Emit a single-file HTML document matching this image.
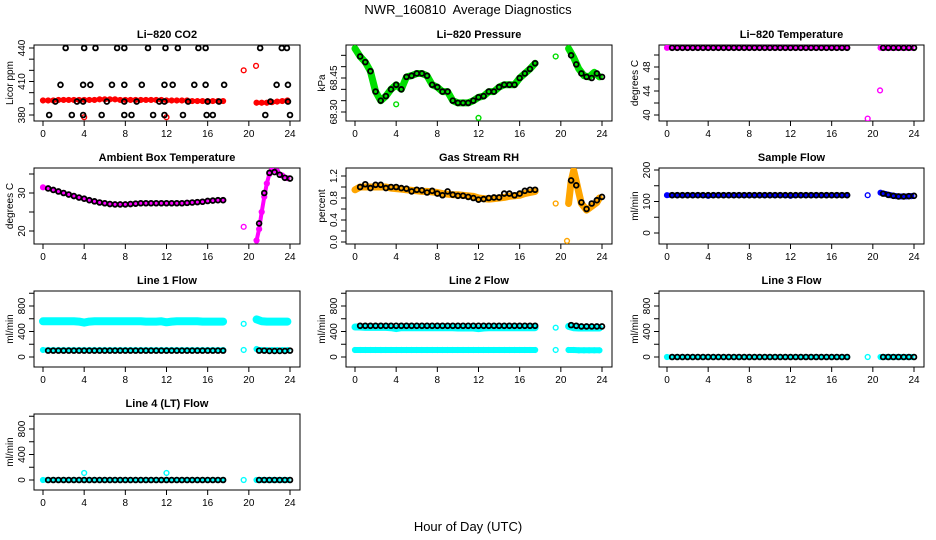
<!DOCTYPE html>
<html><head><meta charset="utf-8">
<style>
html,body{margin:0;padding:0;background:#fff;}
svg{display:block;font-family:"Liberation Sans",sans-serif;}
</style></head>
<body>
<svg id="chart" width="936" height="540" viewBox="0 0 936 540">
<text x="468" y="14" text-anchor="middle" font-size="13" style="white-space:pre">NWR_160810  Average Diagnostics</text>
<text x="468" y="531" text-anchor="middle" font-size="13">Hour of Day (UTC)</text>
</svg>
<script>
// ---- shared hour categories ----
const hC = [0,0.5,1,1.5,2,2.5,3,3.5,4,4.5,5,5.5,6,6.5,7,7.5,8,8.5,9,9.5,10,10.5,11,11.5,12,12.5,13,13.5,14,14.5,15,15.5,16,16.5,17,17.5,19.5,20.75,21.25,21.75,22.25,22.75,23.25,23.75];
const hK = [0.5,1,1.5,2,2.5,3,3.5,4,4.5,5,5.5,6,6.5,7,7.5,8,8.5,9,9.5,10,10.5,11,11.5,12,12.5,13,13.5,14,14.5,15,15.5,16,16.5,17,17.5,21,21.5,22,22.5,23,23.5,24];
const xTicks = [0,4,8,12,16,20,24];

// ---- CO2 ----
const co2Red = [393,393,393,393.5,393.5,393.5,393.5,393.5,393.5,393.5,393.5,394,394,394,394,393.5,393.5,393.5,393.5,393.5,393.5,393.5,393.5,393.5,393,393,393,393,393,392.5,392.5,392.5,392.5,392.5,392.5,392.5,420,391,391,391,391.5,392,392.5,393];
const co2RedOutH = [4,12,20.7];
const co2RedOutV = [378,378,424];
const co2BlackH = [2.2,4,5.1,7.2,7.9,10.2,11.9,13.1,15.1,15.8,21.1,23.2,23.7, 1.7,3.9,4.6,6.7,7.9,9.6,11.8,12.6,14.7,15.8,17.6,22.7,23.8, 1.2,3.3,3.9,6.2,7.9,9.1,11.3,11.8,14.1,16,17.1,22.1,23.8, 0.6,2.8,3.9,5.7,7.9,8.6,10.7,11.8,13.6,15.9,16.5,21.6,24];
const co2BlackV = [440,440,440,440,440,440,440,440,440,440,440,440,440, 407,407,407,407,407,407,407,407,407,407,407,407,407, 392,392,392,392,392,392,392,392,392,392,392,392,392, 380,380,380,380,380,380,380,380,380,380,380,380,380];

// ---- Pressure ----
const presGreen = [68.58,68.545,68.52,68.48,68.39,68.35,68.37,68.40,68.42,68.40,68.455,68.46,68.47,68.47,68.46,68.42,68.41,68.39,68.39,68.35,68.34,68.34,68.34,68.35,68.365,68.37,68.39,68.39,68.41,68.42,68.42,68.42,68.45,68.47,68.49,68.515,68.545,68.58,68.54,68.49,68.46,68.455,68.475,68.455];
const presOutH = [4,12];
const presOutV = [68.334,68.274];
const presBlack = [68.545,68.52,68.48,68.39,68.35,68.37,68.40,68.42,68.40,68.455,68.46,68.47,68.47,68.46,68.42,68.41,68.39,68.39,68.35,68.34,68.34,68.34,68.35,68.365,68.37,68.39,68.39,68.41,68.42,68.42,68.42,68.45,68.47,68.49,68.515,68.55,68.51,68.47,68.455,68.45,68.47,68.455];

// ---- Li-820 Temperature ----
const tempMag = [51.2,51.2,51.2,51.2,51.2,51.2,51.2,51.2,51.2,51.2,51.2,51.2,51.2,51.2,51.2,51.2,51.2,51.2,51.2,51.2,51.2,51.2,51.2,51.2,51.2,51.2,51.2,51.2,51.2,51.2,51.2,51.2,51.2,51.2,51.2,51.2,39.4,51.2,51.2,51.2,51.2,51.2,51.2,51.2];
const tempOutH = [20.7];
const tempOutV = [44.1];
const tempBlack = [51.2,51.2,51.2,51.2,51.2,51.2,51.2,51.2,51.2,51.2,51.2,51.2,51.2,51.2,51.2,51.2,51.2,51.2,51.2,51.2,51.2,51.2,51.2,51.2,51.2,51.2,51.2,51.2,51.2,51.2,51.2,51.2,51.2,51.2,51.2,51.2,51.2,51.2,51.2,51.2,51.2,51.2];

// ---- Ambient ----
const ambH = [0,0.5,1,1.5,2,2.5,3,3.5,4,4.5,5,5.5,6,6.5,7,7.5,8,8.5,9,9.5,10,10.5,11,11.5,12,12.5,13,13.5,14,14.5,15,15.5,16,16.5,17,17.5,19.5,20.75,21,21.25,21.5,21.75,22,22.25,22.75,23.25,23.75];
const ambMag = [31.5,31.2,30.8,30.4,30.0,29.6,29.2,28.8,28.5,28.1,27.8,27.5,27.3,27.1,27.0,27.0,27.0,27.1,27.2,27.3,27.3,27.3,27.3,27.3,27.3,27.3,27.3,27.3,27.4,27.5,27.6,27.7,27.9,28.0,28.1,28.1,21.1,17.5,20.5,25,29,32.5,35,36,35.7,34.6,33.9];
const ambBlack = [31.2,30.8,30.4,30,29.6,29.2,28.8,28.5,28.1,27.8,27.5,27.3,27.1,27.0,27.0,27.0,27.1,27.2,27.3,27.3,27.3,27.3,27.3,27.3,27.3,27.3,27.3,27.4,27.5,27.6,27.7,27.9,28.0,28.1,28.1,22,30,35.3,35.5,34.8,34.0,33.8];

// ---- Gas Stream RH ----
const rhH = [0,0.5,1,1.5,2,2.5,3,3.5,4,4.5,5,5.5,6,6.5,7,7.5,8,8.5,9,9.5,10,10.5,11,11.5,12,12.5,13,13.5,14,14.5,15,15.5,16,16.5,17,17.5,19.5,20.75,21,21.25,21.5,21.75,22,22.5,23,23.5,23.75];
const rhOrange = [0.95,1.0,1.0,1.0,1.0,1.0,1.0,0.98,0.97,0.96,0.95,0.94,0.93,0.92,0.92,0.91,0.9,0.88,0.87,0.86,0.86,0.85,0.84,0.83,0.8,0.79,0.78,0.79,0.80,0.81,0.83,0.84,0.85,0.88,0.9,0.92,0.7,0.7,1.1,1.3,1.1,0.9,0.7,0.58,0.65,0.72,0.8];
const rhOutH = [20.6];
const rhOutV = [0.02];
const rhBlack = [1.0,1.05,0.98,1.04,1.04,0.98,1.0,1.0,0.98,0.97,0.92,0.95,0.94,0.9,0.93,0.88,0.85,0.92,0.86,0.84,0.84,0.82,0.8,0.77,0.78,0.8,0.81,0.81,0.88,0.88,0.85,0.88,0.93,0.95,0.95,1.12,1.03,0.72,0.6,0.7,0.76,0.82];

// ---- Sample Flow ----
const sfBlue = [120,120,120,120,120,120,120,120,118,120,120,120,120,120,120,120,120,120,120,120,120,120,120,120,118,120,120,120,120,120,120,120,120,120,120,120,120,128,124,120,117,116,116,117];
const sfBlack = [120,120,120,120,120,120,120,120,120,120,120,120,120,120,120,120,120,120,120,120,120,120,120,120,120,120,120,120,120,120,120,120,120,120,120,125,121,118,116,116,117,118];

// ---- Line 1 ----
const l1High = [560,560,560,560,560,560,560,555,540,555,560,560,560,560,560,560,560,560,560,560,555,555,555,560,545,555,560,560,560,560,560,555,555,555,555,555,520,590,560,555,555,555,555,555];
const l1Low = [110,110,110,110,110,110,110,110,110,110,110,110,110,110,110,110,110,110,110,110,110,110,110,110,110,110,110,110,110,110,110,110,110,110,110,110,110,125,110,110,110,110,110,110];
const l1Black = [100,100,100,100,100,100,100,100,100,100,100,100,100,100,100,100,100,100,100,100,100,100,100,100,100,100,100,100,100,100,100,100,100,100,100,100,100,95,95,95,95,100];

// ---- Line 2 ----
const l2High = [470,470,465,465,465,465,465,460,445,460,460,460,460,460,460,460,460,460,460,460,455,455,455,455,445,455,460,460,460,460,460,460,460,460,460,460,460,480,460,455,455,455,455,455];
const l2Low = [110,110,110,110,110,110,110,110,110,110,110,110,110,110,110,110,110,110,110,110,110,110,110,110,110,110,110,110,110,110,110,110,110,110,110,110,110,110,110,105,105,105,105,105];
const l2Black = [490,490,490,490,490,490,490,490,490,490,490,490,490,490,490,490,490,490,490,490,490,490,490,490,490,490,490,490,490,490,490,490,490,490,490,500,490,480,480,480,480,480];

// ---- Line 3 ----
const l3Cyan = [0,0,0,0,0,0,0,0,0,0,0,0,0,0,0,0,0,0,0,0,0,0,0,0,0,0,0,0,0,0,0,0,0,0,0,0,0,0,0,0,0,0,0,0];
const l3Black = [0,0,0,0,0,0,0,0,0,0,0,0,0,0,0,0,0,0,0,0,0,0,0,0,0,0,0,0,0,0,0,0,0,0,0,0,0,0,0,0,0,0];

// ---- Line 4 ----
const l4Cyan = [0,0,0,0,0,0,0,0,0,0,0,0,0,0,0,0,0,0,0,0,0,0,0,0,0,0,0,0,0,0,0,0,0,0,0,0,0,0,0,0,0,0,0,0];
const l4OutH = [4,12];
const l4OutV = [110,110];
const l4Black = [0,0,0,0,0,0,0,0,0,0,0,0,0,0,0,0,0,0,0,0,0,0,0,0,0,0,0,0,0,0,0,0,0,0,0,0,0,0,0,0,0,0];

// ---- layout ----
const svg = document.getElementById('chart');
const NS = 'http://www.w3.org/2000/svg';
const cols = [{bl:34,br:300,x0:43,x24:290},{bl:346,br:612,x0:355,x24:602},{bl:659,br:924,x0:667,x24:914}];
const rows = [{bt:45,bb:121},{bt:168,bb:244},{bt:291,bb:367},{bt:414,bb:490}];
const CYAN='#00ffff';

const panels = [
 {key:'co2',r:0,c:0,title:'Li\u2212820 CO2',ylab:'Licor ppm',a:[380,115],b:[440,48],ticks:[380,390,400,410,420,430,440],labels:['380','410','440'],
  series:[{h:hC,v:co2Red,col:'#ff0000',band:4},{h:co2RedOutH,v:co2RedOutV,col:'#ff0000'},{h:co2BlackH,v:co2BlackV,col:'#000'}]},
 {key:'pressure',r:0,c:1,title:'Li\u2212820 Pressure',ylab:'kPa',a:[68.30,112],b:[68.45,78],ticks:[68.30,68.35,68.40,68.45,68.50,68.55],labels:['68.30','68.45'],
  series:[{h:hC,v:presGreen,col:'#00dd00',band:7},{h:presOutH,v:presOutV,col:'#00dd00'},{h:hK,v:presBlack,col:'#000'}]},
 {key:'li820-temp',r:0,c:2,title:'Li\u2212820 Temperature',ylab:'degrees C',a:[40,115],b:[48,67],ticks:[40,42,44,46,48,50],labels:['40','44','48'],
  series:[{h:hC,v:tempMag,col:'#ff00ff',band:5},{h:tempOutH,v:tempOutV,col:'#ff00ff'},{h:hK,v:tempBlack,col:'#000'}]},
 {key:'ambient',r:1,c:0,title:'Ambient Box Temperature',ylab:'degrees C',a:[20,231],b:[30,193],ticks:[20,25,30,35],labels:['20','30'],
  series:[{h:ambH,v:ambMag,col:'#ff00ff',band:4},{h:hK,v:ambBlack,col:'#000'}]},
 {key:'rh',r:1,c:1,title:'Gas Stream RH',ylab:'percent',a:[0,242],b:[1.2,176],ticks:[0,0.2,0.4,0.6,0.8,1.0,1.2],labels:['0.0','0.4','0.8','1.2'],
  series:[{h:rhH,v:rhOrange,col:'#ffa500',band:7},{h:rhOutH,v:rhOutV,col:'#ffa500'},{h:hK,v:rhBlack,col:'#000'}]},
 {key:'sample-flow',r:1,c:2,title:'Sample Flow',ylab:'ml/min',a:[0,233],b:[200,170],ticks:[0,50,100,150,200],labels:['0','100','200'],
  series:[{h:hC,v:sfBlue,col:'#0000ff',band:5},{h:hK,v:sfBlack,col:'#000'}]},
 {key:'line1',r:2,c:0,title:'Line 1 Flow',ylab:'ml/min',a:[0,357],b:[800,306],ticks:[0,200,400,600,800,1000],labels:['0','400','800'],
  series:[{h:hC,v:l1High,col:CYAN,band:8},{h:hC,v:l1Low,col:CYAN,band:5},{h:hK,v:l1Black,col:'#000'}]},
 {key:'line2',r:2,c:1,title:'Line 2 Flow',ylab:'ml/min',a:[0,357],b:[800,306],ticks:[0,200,400,600,800,1000],labels:['0','400','800'],
  series:[{h:hC,v:l2High,col:CYAN,band:7},{h:hC,v:l2Low,col:CYAN,band:6},{h:hK,v:l2Black,col:'#000'}]},
 {key:'line3',r:2,c:2,title:'Line 3 Flow',ylab:'ml/min',a:[0,357],b:[800,306],ticks:[0,200,400,600,800,1000],labels:['0','400','800'],
  series:[{h:hC,v:l3Cyan,col:CYAN,band:5},{h:hK,v:l3Black,col:'#000'}]},
 {key:'line4',r:3,c:0,title:'Line 4 (LT) Flow',ylab:'ml/min',a:[0,480],b:[800,429],ticks:[0,200,400,600,800,1000],labels:['0','400','800'],
  series:[{h:hC,v:l4Cyan,col:CYAN,band:5},{h:l4OutH,v:l4OutV,col:CYAN},{h:hK,v:l4Black,col:'#000'}]}
];

function mk(tag, attrs, parent){
  const e=document.createElementNS(NS,tag);
  for(const k in attrs) e.setAttribute(k,attrs[k]);
  parent.appendChild(e); return e;
}

panels.forEach(p=>{
  const C=cols[p.c], R=rows[p.r];
  const g=mk('g',{},svg);
  
  
  const xs=h=>C.x0+(h/24)*(C.x24-C.x0);
  const ys=v=>p.a[1]+(v-p.a[0])*(p.b[1]-p.a[1])/(p.b[0]-p.a[0]);
  const cid='clip-'+p.key;
  const cp=mk('clipPath',{id:cid},g);
  mk('rect',{x:C.bl,y:R.bt,width:C.br-C.bl,height:R.bb-R.bt},cp);
  const t=mk('text',{x:(C.bl+C.br)/2,y:R.bt-7,'text-anchor':'middle','font-size':11,'font-weight':'bold'},g);
  t.textContent=p.title;
  
  
  const box=mk('rect',{x:C.bl,y:R.bt,width:C.br-C.bl,height:R.bb-R.bt,fill:'none',stroke:'#000','stroke-width':1},g);
  
  
  const xa=mk('g',{},g);
  
  
  xTicks.forEach(h=>{
    mk('line',{x1:xs(h),x2:xs(h),y1:R.bb,y2:R.bb+5,stroke:'#000'},xa);
    const l=mk('text',{x:xs(h),y:R.bb+16,'text-anchor':'middle','font-size':10},xa);
    l.textContent=String(h);
  });
  const ya=mk('g',{},g);
  
  
  p.ticks.forEach(v=>{
    mk('line',{x1:C.bl-5,x2:C.bl,y1:ys(v),y2:ys(v),stroke:'#000'},ya);
  });
  p.labels.forEach(s=>{
    const y=ys(parseFloat(s));
    const l=mk('text',{x:0,y:0,'text-anchor':'middle','font-size':10,transform:`translate(${C.bl-9},${y}) rotate(-90)`},ya);
    l.textContent=s;
  });
  const yl=mk('text',{x:0,y:0,'text-anchor':'middle','font-size':10,transform:`translate(${C.bl-21},${(R.bt+R.bb)/2}) rotate(-90)`},g);
  yl.textContent=p.ylab;
  
  
  const sg=mk('g',{'clip-path':`url(#${cid})`},g);
  p.series.forEach((s,si)=>{
    const ser=mk('g',{},sg);
    
    
    if(s.band){
      let seg=[];
      const flush=()=>{ if(seg.length>1) mk('polyline',{points:seg.join(' '),fill:'none',stroke:s.col,'stroke-width':s.band,'stroke-linejoin':'round','stroke-linecap':'round'},ser); seg=[]; };
      s.h.forEach((h,i)=>{
        if(i>0 && h-s.h[i-1]>1) flush();
        seg.push(xs(h).toFixed(1)+','+ys(s.v[i]).toFixed(1));
      });
      flush();
    }
    const sw = s.col==='#000' ? 1.8 : 1.4;
    s.h.forEach((h,i)=>{
      const c=mk('circle',{cx:xs(h),cy:ys(s.v[i]),r:2.4,fill:'none',stroke:s.col,'stroke-width':sw},ser);
      
      
    });
  });
});
</script>
</body></html>
